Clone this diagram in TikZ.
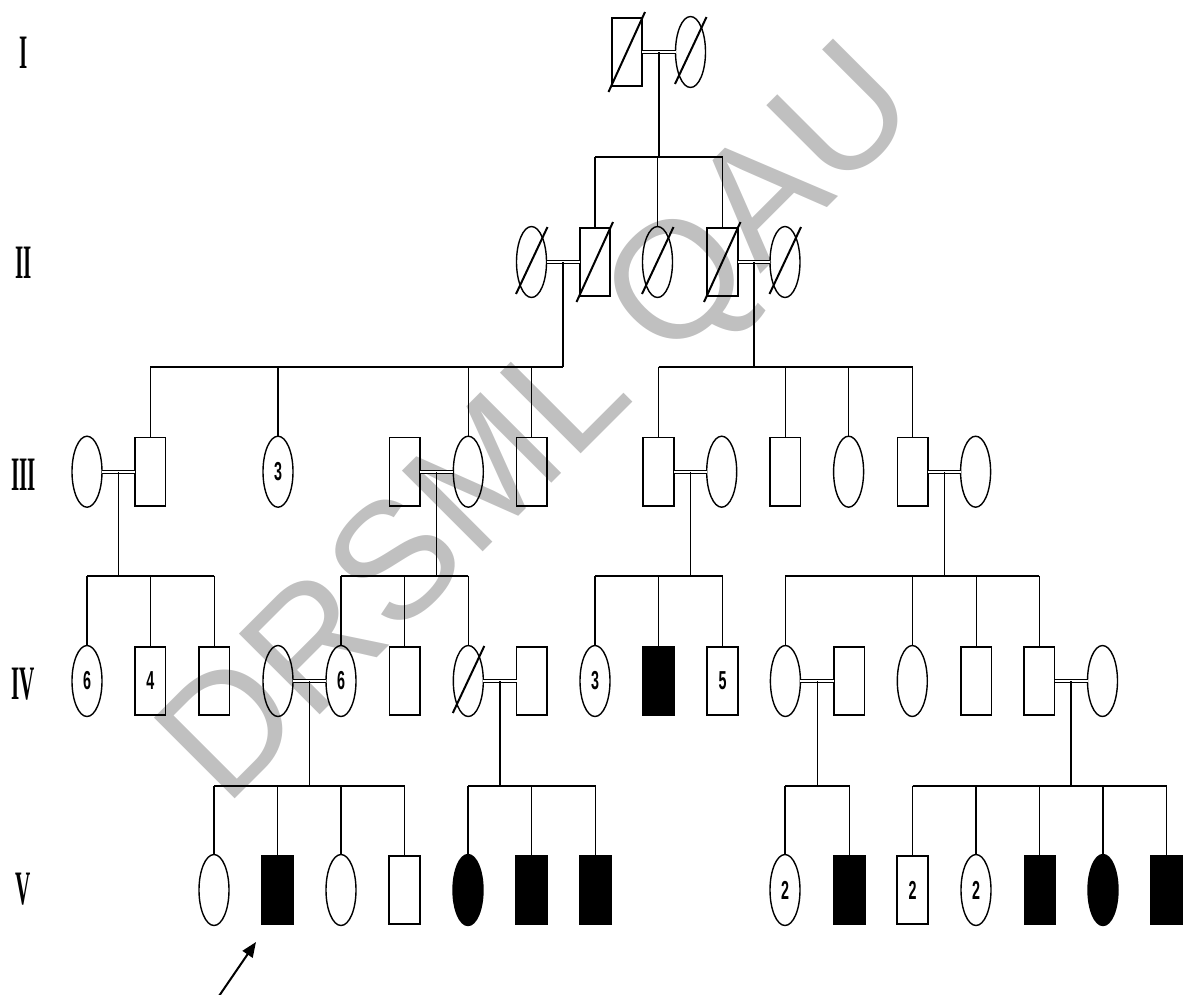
\documentclass[tikz,border=0pt]{standalone}
\usepackage{fontspec}
\setmainfont{Liberation Serif}
\newfontfamily\wmfamily{Liberation Sans}
\newfontfamily\numfamily{Liberation Sans}
\usetikzlibrary{shapes.geometric,arrows.meta,calc}

\definecolor{wmgray}{RGB}{192,192,192}

% count printed inside a symbol (narrow bold sans)
\newcommand\pcount[1]{\scalebox{0.55}[1]{\numfamily\bfseries\fontsize{26}{26}\selectfont #1}}
% generation numeral (narrow bold serif)
\newcommand\gennum[1]{\scalebox{0.44}[1]{\bfseries\fontsize{48}{48}\selectfont #1}}
% deceased marks
\newcommand\deadM[1]{\draw[slash] ([shift={(-18.5,40)}]#1.center) -- ([shift={(18,-40)}]#1.center);}
\newcommand\deadF[1]{\draw[slash] ([shift={(-15.5,32)}]#1.center) -- ([shift={(16,-35)}]#1.center);}

\tikzset{
  every node/.style={inner sep=0pt, outer sep=0pt},
  male/.style={rectangle, draw, line width=1.6pt, minimum width=30.5pt, minimum height=68.5pt},
  female/.style={ellipse, draw, line width=1.4pt, minimum width=30pt, minimum height=71pt},
  aff/.style={fill=black},
  link/.style={line width=1.3pt},
  sib/.style={line width=2pt},
  mate/.style={double, double distance=1.6pt, line width=1.2pt},
  slash/.style={line width=2pt},
  genlabel/.style={anchor=center},
  wm/.style={text=wmgray, font=\wmfamily\fontsize{166}{166}\selectfont},
  pointer/.style={line width=2pt, -{Triangle[length=15pt,width=12pt]}}
}

\begin{document}
\begin{tikzpicture}[x=1pt, y=-1pt]
\useasboundingbox (0,0) rectangle (1184,994);

% watermark behind the chart
\node[wm, rotate=45] (mark) at (545,430) {DRSML QAU};

% generation numerals
\node[genlabel] (lI)   at (23.5,53)  {\gennum{I}};
\node[genlabel] (lII)  at (23.5,263) {\gennum{II}};
\node[genlabel] (lIII) at (23.5,475) {\gennum{III}};
\node[genlabel] (lIV)  at (23.5,684) {\gennum{IV}};
\node[genlabel] (lV)   at (23.5,889) {\gennum{V}};

% ---------------- generation I
\node[male]   (Ia) at (627,52) {};
\node[female] (Ib) at (690.5,52) {};
\deadM{Ia} \deadF{Ib}

% ---------------- generation II
\node[female] (IIa) at (531.5,262) {};
\node[male]   (IIb) at (595,262) {};
\node[female] (IIc) at (657.5,262) {};
\node[male]   (IId) at (722.5,262) {};
\node[female] (IIe) at (785,262) {};
\deadF{IIa} \deadM{IIb} \deadF{IIc} \deadM{IId} \deadF{IIe}

% ---------------- generation III
\node[female] (IIIa) at (87,471.7) {};
\node[male]   (IIIb) at (150.4,471.7) {};
\node[female] (IIIc) at (278,471.7) {\pcount{3}};
\node[male]   (IIId) at (404.6,471.7) {};
\node[female] (IIIe) at (468.3,471.7) {};
\node[male]   (IIIf) at (531.8,471.7) {};
\node[male]   (IIIg) at (658.5,471.7) {};
\node[female] (IIIh) at (721.7,471.7) {};
\node[male]   (IIIi) at (785.4,471.7) {};
\node[female] (IIIj) at (848.6,471.7) {};
\node[male]   (IIIk) at (912.7,471.7) {};
\node[female] (IIIl) at (975.6,471.7) {};

% ---------------- generation IV
\node[female] (IVa) at (87,681) {\pcount{6}};
\node[male]   (IVb) at (150.4,681) {\pcount{4}};
\node[male]   (IVc) at (214.3,681) {};
\node[female] (IVd) at (278,681) {};
\node[female] (IVe) at (341,681) {\pcount{6}};
\node[male]   (IVf) at (404.6,681) {};
\node[female] (IVg) at (468.3,681) {};
\node[male]   (IVh) at (531.8,681) {};
\node[female] (IVi) at (595,681) {\pcount{3}};
\node[male,aff] (IVj) at (658.5,681) {};
\node[male]   (IVk) at (722.5,681) {\pcount{5}};
\node[female] (IVl) at (785.4,681) {};
\node[male]   (IVm) at (849.4,681) {};
\node[female] (IVn) at (912.3,681) {};
\node[male]   (IVo) at (976.4,681) {};
\node[male]   (IVp) at (1039.4,681) {};
\node[female] (IVq) at (1102.5,681) {};
\deadF{IVg}

% ---------------- generation V
\node[female]     (Va) at (214,890) {};
\node[male,aff]   (Vb) at (277.5,890) {};
\node[female]     (Vc) at (341,890) {};
\node[male]       (Vd) at (404.5,890) {};
\node[female,aff] (Ve) at (468,890) {};
\node[male,aff]   (Vf) at (531.5,890) {};
\node[male,aff]   (Vg) at (595.5,890) {};
\node[female]     (Vh) at (785,890) {\pcount{2}};
\node[male,aff]   (Vi) at (849.5,890) {};
\node[male]       (Vj) at (912.5,890) {\pcount{2}};
\node[female]     (Vk) at (976,890) {\pcount{2}};
\node[male,aff]   (Vl) at (1039.7,890) {};
\node[female,aff] (Vm) at (1103,890) {};
\node[male,aff]   (Vn) at (1166.5,890) {};

% ---------------- sibship levels
\coordinate (sI)   at (0,157);
\coordinate (sII)  at (0,366.5);
\coordinate (sIII) at (0,575.7);
\coordinate (sIV)  at (0,785.7);

% ---------------- couples and their descent lines
% mate line between two partners, descent from its midpoint
\foreach \a/\b/\m in {Ia/Ib/mI, IIa/IIb/mIIa, IId/IIe/mIIb,
                      IIIa/IIIb/mIIIa, IIId/IIIe/mIIIb, IIIg/IIIh/mIIIc, IIIk/IIIl/mIIId,
                      IVd/IVe/mIVa, IVg/IVh/mIVb, IVl/IVm/mIVc, IVp/IVq/mIVd}{
  \draw[mate] (\a.east) -- (\a.east -| \b.west);
  \coordinate (\m) at ($(\a.east)!0.5!(\a.east -| \b.west)$);
}

% I -> II
\draw[link] (mI) -- (mI |- sI);
\draw[sib] (IIb |- sI) -- (IId |- sI);
\foreach \c in {IIb,IIc,IId} \draw[link] (\c |- sI) -- (\c.north);

% II -> III (left family)
\draw[link] (mIIa) -- (mIIa |- sII);
\draw[sib] (IIIb |- sII) -- (mIIa |- sII);
\foreach \c in {IIIb,IIIc,IIIe,IIIf} \draw[link] (\c |- sII) -- (\c.north);

% II -> III (right family)
\draw[link] (mIIb) -- (mIIb |- sII);
\draw[sib] (IIIg |- sII) -- (IIIk |- sII);
\foreach \c in {IIIg,IIIi,IIIj,IIIk} \draw[link] (\c |- sII) -- (\c.north);

% III -> IV
\draw[link] (mIIIa) -- (mIIIa |- sIII);
\draw[sib] (IVa |- sIII) -- (IVc |- sIII);
\foreach \c in {IVa,IVb,IVc} \draw[link] (\c |- sIII) -- (\c.north);

\draw[link] (mIIIb) -- (mIIIb |- sIII);
\draw[sib] (IVe |- sIII) -- (IVg |- sIII);
\foreach \c in {IVe,IVf,IVg} \draw[link] (\c |- sIII) -- (\c.north);

\draw[link] (mIIIc) -- (mIIIc |- sIII);
\draw[sib] (IVi |- sIII) -- (IVk |- sIII);
\foreach \c in {IVi,IVj,IVk} \draw[link] (\c |- sIII) -- (\c.north);

\draw[link] (mIIId) -- (mIIId |- sIII);
\draw[sib] (IVl |- sIII) -- (IVp |- sIII);
\foreach \c in {IVl,IVn,IVo,IVp} \draw[link] (\c |- sIII) -- (\c.north);

% IV -> V
\draw[link] (mIVa) -- (mIVa |- sIV);
\draw[sib] (Va |- sIV) -- (Vd |- sIV);
\foreach \c in {Va,Vb,Vc,Vd} \draw[link] (\c |- sIV) -- (\c.north);

\draw[link] (mIVb) -- (mIVb |- sIV);
\draw[sib] (Ve |- sIV) -- (Vg |- sIV);
\foreach \c in {Ve,Vf,Vg} \draw[link] (\c |- sIV) -- (\c.north);

\draw[link] (mIVc) -- (mIVc |- sIV);
\draw[sib] (Vh |- sIV) -- (Vi |- sIV);
\foreach \c in {Vh,Vi} \draw[link] (\c |- sIV) -- (\c.north);

\draw[link] (mIVd) -- (mIVd |- sIV);
\draw[sib] (Vj |- sIV) -- (Vn |- sIV);
\foreach \c in {Vj,Vk,Vl,Vm,Vn} \draw[link] (\c |- sIV) -- (\c.north);

% proband pointer
\coordinate (ptail) at (219,996);
\coordinate (ptip)  at (256,942);
\draw[pointer] (ptail) -- (ptip);

\end{tikzpicture}
\end{document}
